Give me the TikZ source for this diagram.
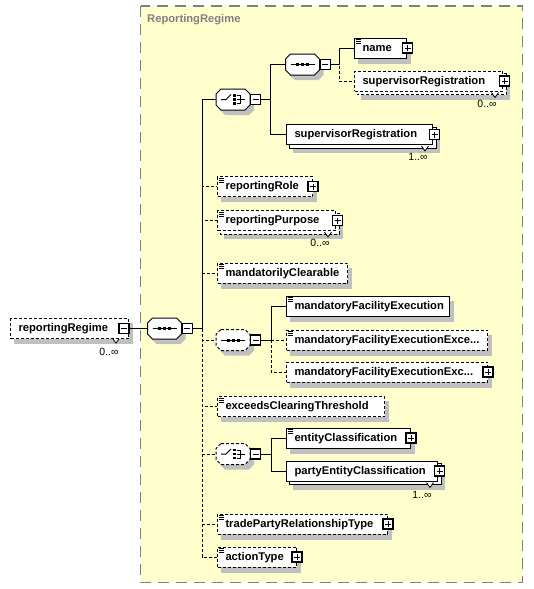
\documentclass[tikz,border=0pt]{standalone}
\usepackage{fontspec}
\setmainfont{Liberation Sans}
\definecolor{bgyellow}{RGB}{255,255,206}
\definecolor{shgray}{RGB}{192,192,192}
\definecolor{framegray}{RGB}{128,128,128}
\tikzset{
  conn/.style={line width=1pt, draw=black},
  dsh/.style={dash pattern=on 3pt off 2pt},
  ebox/.style={draw=black, fill=white, line width=1pt, anchor=west, minimum height=20pt,
    inner xsep=8pt, inner ysep=0pt, text height=8.2pt, text depth=1.4pt, align=left,
    font=\fontsize{11.2}{13}\selectfont\bfseries},
  shbox/.style={fill=shgray, draw=none},
  pm/.style={draw=black, fill=white, line width=1.2pt, minimum size=10pt, inner sep=0pt},
  occ/.style={font=\fontsize{10.5}{12}\selectfont, inner sep=0pt},
  notchline/.style={line width=0.8pt, fill=white},
}
\pgfdeclarelayer{shadowlayer}
\pgfsetlayers{shadowlayer,main}
\newcommand\minussign[1]{\draw[line width=1pt] ([xshift=-3pt]#1.center) -- ([xshift=3pt]#1.center);}
\newcommand\plussign[1]{\minussign{#1}\draw[line width=1pt] ([yshift=-3pt]#1.center) -- ([yshift=3pt]#1.center);}
\newcommand\plusat[2]{\node[pm] (#1) at (#2) {};\plussign{#1}}
\newcommand\simpicon[1]{\foreach \d in {2,4,6} {\draw[line width=0.8pt] ([shift={(1.5,\d)}]#1.north west) -- ++(5,0);}}
\newcommand\boxshadow[1]{\begin{pgfonlayer}{shadowlayer}\fill[shbox] ([shift={(4,5)}]#1.north west) rectangle ([shift={(4,5)}]#1.south east);\end{pgfonlayer}}
\newcommand\stackback[2]{%
  \begin{pgfonlayer}{shadowlayer}
  \fill[shbox] ([shift={(7,8)}]#1.north west) rectangle ([shift={(7,8)}]#1.south east);
  \draw[line width=1pt, fill=white, #2] ([shift={(3,3)}]#1.north west) rectangle ([shift={(3,3)}]#1.south east);
  \end{pgfonlayer}
  \draw[notchline] ([shift={(-11.5,1)}]#1.south east) -- ++(3.5,5) -- ++(3.5,-5);
}
\newcommand\seqsym[1]{%
  \draw[line width=1pt] ([xshift=-12pt]#1.center) -- ([xshift=12pt]#1.center);
  \foreach \d in {-5,0,5} {\fill (#1.center) ++(\d-1.5,-1.5) rectangle ++(3,3);}%
}
\newcommand\chsym[1]{%
  \draw[line width=1pt] (#1.center) ++(-12,0) -- ++(5,0) -- ++(5,-5);
  \foreach \d in {-4,0,4} {\fill (#1.center) ++(0.2,\d-1.3) rectangle ++(2.6,2.6);}
  \draw[line width=1pt] (#1.center) ++(3.5,-4) -- ++(3.5,0) -- ++(0,8) -- ++(-3.5,0);
  \draw[line width=1pt] (#1.center) ++(3.5,0) -- ++(8.5,0);
}
\newcommand\compo[5]{%
  \begin{pgfonlayer}{shadowlayer}
  \fill[shbox] (#3+4,#4+5) ++(-12,-10.5) -- ++(24,0) -- ++(5,5) -- ++(0,11) -- ++(-5,5) -- ++(-24,0) -- ++(-5,-5) -- ++(0,-11) -- cycle;
  \end{pgfonlayer}
  \draw[line width=1pt, fill=white, #2] (#3,#4) ++(-12,-10.5) -- ++(24,0) -- ++(5,5) -- ++(0,11) -- ++(-5,5) -- ++(-24,0) -- ++(-5,-5) -- ++(0,-11) -- cycle;
  \node[inner sep=0pt, minimum width=34pt, minimum height=21pt] (#1) at (#3,#4) {};
  \node[pm] (#1m) at ([xshift=5.5pt]#1.east) {};
  \minussign{#1m}
  #5{#1}%
}
\begin{document}
\begin{tikzpicture}[x=1pt, y=-1pt]
\useasboundingbox (0,0) rectangle (534,589);
\begin{pgfonlayer}{shadowlayer}
\draw[framegray, line width=1.3pt, fill=bgyellow, dash pattern=on 11pt off 7pt] (140.5,6) rectangle (522.5,582.5);
\end{pgfonlayer}
\node[anchor=base west, inner sep=0pt, text=framegray, font=\fontsize{11.2}{13}\selectfont\bfseries] (title) at (147,23) {ReportingRegime};

\node[ebox, dsh, text width=102pt] (rr) at (10,328.5) {reportingRegime};
\boxshadow{rr}
\draw[notchline] ([shift={(-16,0)}]rr.south east) -- ++(3,4) -- ++(3,-4);
\node[pm] (rrm) at (124,328.5) {};
\minussign{rrm}
\node[occ] (occrr) at (109,352) {0..∞};

\compo{seq0}{}{164.5}{328.5}{\seqsym}
\compo{ch1}{}{233}{99.5}{\chsym}
\compo{seq2}{}{302.5}{64.5}{\seqsym}
\compo{seq3}{dsh}{233}{340}{\seqsym}
\compo{ch2}{dsh}{233}{454}{\chsym}

\node[ebox, text width=36pt] (name) at (354,48) {name};
\boxshadow{name}
\simpicon{name}
\plusat{namep}{[xshift=0.5pt]name.east}
\node[ebox, dsh, text width=132pt] (sr1) at (354,81) {supervisorRegistration};
\stackback{sr1}{dsh}
\plusat{sr1p}{[xshift=1.5pt]sr1.east}
\node[occ] (occsr1) at (487,104) {0..∞};
\node[ebox, text width=130pt] (sr2) at (286,134.5) {supervisorRegistration};
\stackback{sr2}{solid}
\plusat{sr2p}{[xshift=1.5pt]sr2.east}
\node[occ] (occsr2) at (418,157) {1..∞};

\node[ebox, dsh, text width=79pt] (rrole) at (217,186.5) {reportingRole};
\boxshadow{rrole}
\simpicon{rrole}
\plusat{rrolep}{[xshift=0pt]rrole.east}
\node[ebox, dsh, text width=102pt] (rpurp) at (217,220.5) {reportingPurpose};
\stackback{rpurp}{dsh}
\simpicon{rpurp}
\plusat{rpurpp}{[xshift=1.5pt]rpurp.east}
\node[occ] (occrp) at (320,243) {0..∞};
\node[ebox, dsh, text width=114pt] (mclear) at (217,273) {mandatorilyClearable};
\boxshadow{mclear}
\simpicon{mclear}

\node[ebox, text width=147pt] (mfe) at (286,306) {mandatoryFacilityExecution};
\boxshadow{mfe}
\simpicon{mfe}
\node[ebox, dsh, text width=185pt] (mfee) at (286,340) {mandatoryFacilityExecutionExce...};
\boxshadow{mfee}
\simpicon{mfee}
\node[ebox, dsh, text width=185pt] (mfee2) at (286,372) {mandatoryFacilityExecutionExc...};
\boxshadow{mfee2}
\plusat{mfee2p}{[xshift=0pt]mfee2.east}

\node[ebox, dsh, text width=151pt] (exceeds) at (217,406.5) {exceedsClearingThreshold};
\boxshadow{exceeds}
\simpicon{exceeds}

\node[ebox, text width=108pt] (entity) at (286,438) {entityClassification};
\boxshadow{entity}
\simpicon{entity}
\plusat{entityp}{[xshift=0pt]entity.east}
\node[ebox, text width=135pt] (party) at (286,471) {partyEntityClassification};
\stackback{party}{solid}
\plusat{partyp}{[xshift=1.5pt]party.east}
\node[occ] (occparty) at (422,495) {1..∞};

\node[ebox, dsh, text width=154pt] (trade) at (217,524) {tradePartyRelationshipType};
\boxshadow{trade}
\simpicon{trade}
\plusat{tradep}{[xshift=0pt]trade.east}
\node[ebox, dsh, text width=63pt] (action) at (217,557) {actionType};
\boxshadow{action}
\simpicon{action}
\plusat{actionp}{[xshift=0pt]action.east}

\coordinate (bus0) at (202,328.5);
\coordinate (bus1) at (270,99.5);
\coordinate (bus2) at (339,64.5);
\coordinate (bus3) at (271,340);
\coordinate (bus4) at (271,454);

\draw[conn] (rrm.east) -- (seq0.west);
\foreach \t in {rrole,rpurp,mclear,seq3,exceeds,ch2,trade,action}
  {\draw[conn, dsh] (seq0m.east) -- (bus0) |- (\t.west);}
\draw[conn] (seq0m.east) -- (bus0) |- (ch1.west);
\draw[conn] (ch1m.east) -- (bus1) |- (seq2.west);
\draw[conn] (ch1m.east) -- (bus1) |- (sr2.west);
\draw[conn, dsh] (seq2m.east) -- (bus2) |- (sr1.west);
\draw[conn] (seq2m.east) -- (bus2) |- (name.west);
\draw[conn, dsh] (seq3m.east) -- (bus3) |- (mfee.west);
\draw[conn, dsh] (seq3m.east) -- (bus3) |- (mfee2.west);
\draw[conn] (seq3m.east) -- (bus3) |- (mfe.west);
\draw[conn] (ch2m.east) -- (bus4) |- (entity.west);
\draw[conn] (ch2m.east) -- (bus4) |- (party.west);
\end{tikzpicture}
\end{document}
